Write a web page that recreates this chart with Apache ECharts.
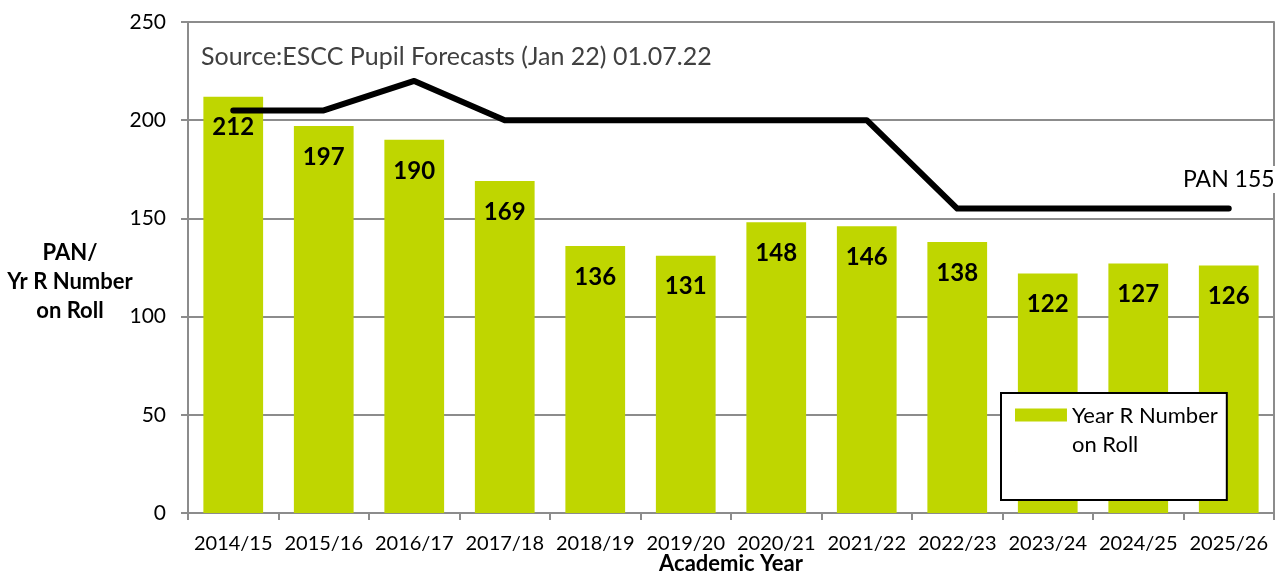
<!DOCTYPE html>
<html>
<head>
<meta charset="utf-8">
<script src="https://cdn.jsdelivr.net/npm/echarts@6/dist/echarts.min.js"></script>
<style>
  html, body { margin: 0; padding: 0; background: #fff; }
  #main { width: 1283px; height: 579px; }
</style>
</head>
<body>
<div id="main"></div>
<script>
(function() {
    var chartDom = document.getElementById('main');
    var myChart = echarts.init(chartDom);
    var option;

    const years = ['2014/15', '2015/16', '2016/17', '2017/18', '2018/19', '2019/20',
        '2020/21', '2021/22', '2022/23', '2023/24', '2024/25', '2025/26'];
    const rollNumbers = [212, 197, 190, 169, 136, 131, 148, 146, 138, 122, 127, 126];
    const panValues = [205, 205, 220, 200, 200, 200, 200, 200, 155, 155, 155, 155];

    const font = 'Lato, "Open Sans", sans-serif';
    const axisGrey = '#8c8c8c';

    // last PAN point carries the "PAN 155" tag
    const panData = panValues.map(function(v, i) {
        if (i === panValues.length - 1) {
            return {
                value: v,
                label: {
                    show: true,
                    position: 'top',
                    offset: [0, -10],
                    formatter: 'PAN ' + v,
                    color: '#000',
                    fontSize: 23,
                    fontFamily: font,
                    backgroundColor: '#fff',
                    padding: [2, 1, 2, 1]
                }
            };
        }
        return v;
    });

    option = {
        animation: false,
        backgroundColor: '#fff',
        textStyle: { fontFamily: font },
        title: {
            text: 'Source:ESCC Pupil Forecasts (Jan 22) 01.07.22',
            left: 196,
            top: 39,
            textStyle: {
                fontSize: 25,
                fontWeight: 'normal',
                color: '#404040',
                fontFamily: font
            }
        },
        legend: {
            data: ['Year R Number\non Roll'],
            left: 1001,
            top: 393,
            orient: 'vertical',
            icon: 'path://M0,0H4V1H0Z M0,3.3H0.01V3.31H0Z',
            itemWidth: 52,
            itemHeight: 43,
            itemGap: 4,
            borderColor: '#000',
            borderWidth: 2,
            backgroundColor: '#fff',
            padding: [8, 9, 41, 14],
            textStyle: {
                fontSize: 22,
                color: '#000',
                lineHeight: 29,
                fontFamily: font
            }
        },
        grid: {
            left: 188,
            right: 9,
            top: 22,
            bottom: 66,
            containLabel: false,
            outerBoundsMode: 'none'
        },
        xAxis: {
            type: 'category',
            data: years,
            name: 'Academic Year',
            nameLocation: 'middle',
            nameGap: 40,
            nameMoveOverlap: false,
            nameTextStyle: {
                fontSize: 22,
                fontWeight: 'bold',
                color: '#000',
                fontFamily: font
            },
            axisLine: { lineStyle: { color: axisGrey, width: 2 } },
            axisTick: { show: true, length: 7, lineStyle: { color: axisGrey, width: 2 } },
            axisLabel: { fontSize: 20, color: '#000', margin: 21, interval: 0, fontFamily: font },
            splitLine: { show: false }
        },
        yAxis: [{
            type: 'value',
            min: 0,
            max: 250,
            interval: 50,
            // leading blank line drops the block half a line below the axis middle
            name: '\nPAN/\nYr R Number\non Roll',
            nameLocation: 'middle',
            nameGap: 118,
            nameRotate: 0,
            nameMoveOverlap: false,
            nameTextStyle: {
                fontSize: 22,
                fontWeight: 'bold',
                color: '#000',
                lineHeight: 29,
                align: 'center',
                verticalAlign: 'middle',
                fontFamily: font
            },
            axisLine: { show: true, lineStyle: { color: axisGrey, width: 2 } },
            axisTick: { show: true, length: 7, lineStyle: { color: axisGrey, width: 2 } },
            axisLabel: { fontSize: 21, color: '#000', margin: 22, fontFamily: font },
            splitLine: { show: true, lineStyle: { color: axisGrey, width: 2 } }
        }, {
            type: 'value',
            min: 0,
            max: 250,
            interval: 50,
            position: 'right',
            axisLine: { show: true, lineStyle: { color: axisGrey, width: 2 } },
            axisTick: { show: false },
            axisLabel: { show: false },
            splitLine: { show: false }
        }],
        series: [{
                name: 'Year R Number\non Roll',
                type: 'bar',
                data: rollNumbers,
                barWidth: '66%',
                itemStyle: { color: '#bfd600' },
                label: {
                    show: true,
                    position: 'insideTop',
                    distance: 19,
                    fontSize: 24,
                    fontWeight: 'bold',
                    color: '#000',
                    fontFamily: font
                }
            },
            {
                name: 'PAN',
                type: 'line',
                data: panData,
                symbol: 'circle',
                symbolSize: 1,
                itemStyle: { color: '#000' },
                lineStyle: { color: '#000', width: 6, cap: 'round', join: 'round' },
                z: 5
            }
        ]
    };

    myChart.setOption(option);
})();
</script>
</body>
</html>
